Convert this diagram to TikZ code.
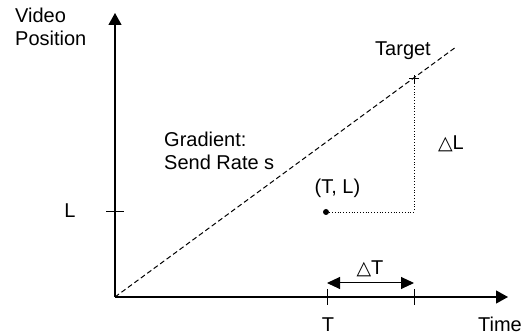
\documentclass[tikz,border=0pt]{standalone}
\usepackage{fontspec}
\setmainfont{Liberation Sans}
\newfontfamily\symfont{DejaVu Sans}
\usetikzlibrary{arrows.meta}
\newcommand{\dlt}{{\symfont\fontsize{19}{19}\selectfont △}}

\begin{document}
\begin{tikzpicture}[x=1pt, y=1pt,
  label/.style={inner sep=0pt, font=\fontsize{20}{23}\selectfont},
  axis/.style={-{Triangle[width=13pt,length=12pt]}, line width=1.2pt},
  span/.style={{Triangle[width=12pt,length=13pt]}-{Triangle[width=12pt,length=13pt]}, line width=1pt},
  tick/.style={line width=1pt},
  guide/.style={dotted, line width=0.8pt},
  rate/.style={dash pattern=on 5pt off 3pt, line width=1pt}
]
  \useasboundingbox (0,0) rectangle (523,336);

  % axes
  \coordinate (origin) at (115,39);
  \coordinate (ytip) at (115,323);
  \coordinate (xtip) at (508,39);
  \draw[axis] (origin) -- (ytip);
  \draw[axis] (origin) -- (xtip);

  % send rate line and target
  \coordinate (rateend) at (456,289);
  \coordinate (target) at (414,257);
  \draw[rate] (origin) -- (rateend);
  \draw[tick] ([xshift=-5pt]target) -- ([xshift=5pt]target);
  \draw[tick] ([yshift=-4pt]target) -- ([yshift=4pt]target);

  % current point
  \node[circle, fill, inner sep=0pt, minimum size=6pt] (tl) at (326,124) {};
  \coordinate (corner) at (414,124);
  \draw[guide] (tl) -- (corner) -- (target);

  % ticks
  \coordinate (ltick) at (115,124);
  \coordinate (ttick) at (327,39);
  \coordinate (dtick) at (414,39);
  \draw[tick] ([xshift=-9pt]ltick) -- ([xshift=9pt]ltick);
  \draw[tick] ([yshift=-8pt]ttick) -- ([yshift=8pt]ttick);
  \draw[tick] ([yshift=-8pt]dtick) -- ([yshift=8pt]dtick);

  % delta T
  \coordinate (dtl) at (327,53);
  \coordinate (dtr) at (414,53);
  \draw[span] (dtl) -- (dtr);

  % labels
  \node[label, anchor=north west, align=left] (ylab) at (15,328) {Video\\Position};
  \node[label, anchor=base] (xlab) at (500,4) {Time};
  \node[label, anchor=base] (tlab) at (328,4) {T};
  \node[label, anchor=base] (llab) at (70,118) {L};
  \node[label, anchor=base] (tgtlab) at (403,280) {Target};
  \node[label, anchor=base] (tllab) at (337.5,142.5) {(T, L)};
  \node[label, anchor=base] (dtlab) at (370,61) {\dlt T};
  \node[label, anchor=base] (dllab) at (451,186) {\dlt L};
  \node[label, anchor=north west, align=left] (gradlab) at (164,204) {Gradient:\\Send Rate s};
\end{tikzpicture}
\end{document}
